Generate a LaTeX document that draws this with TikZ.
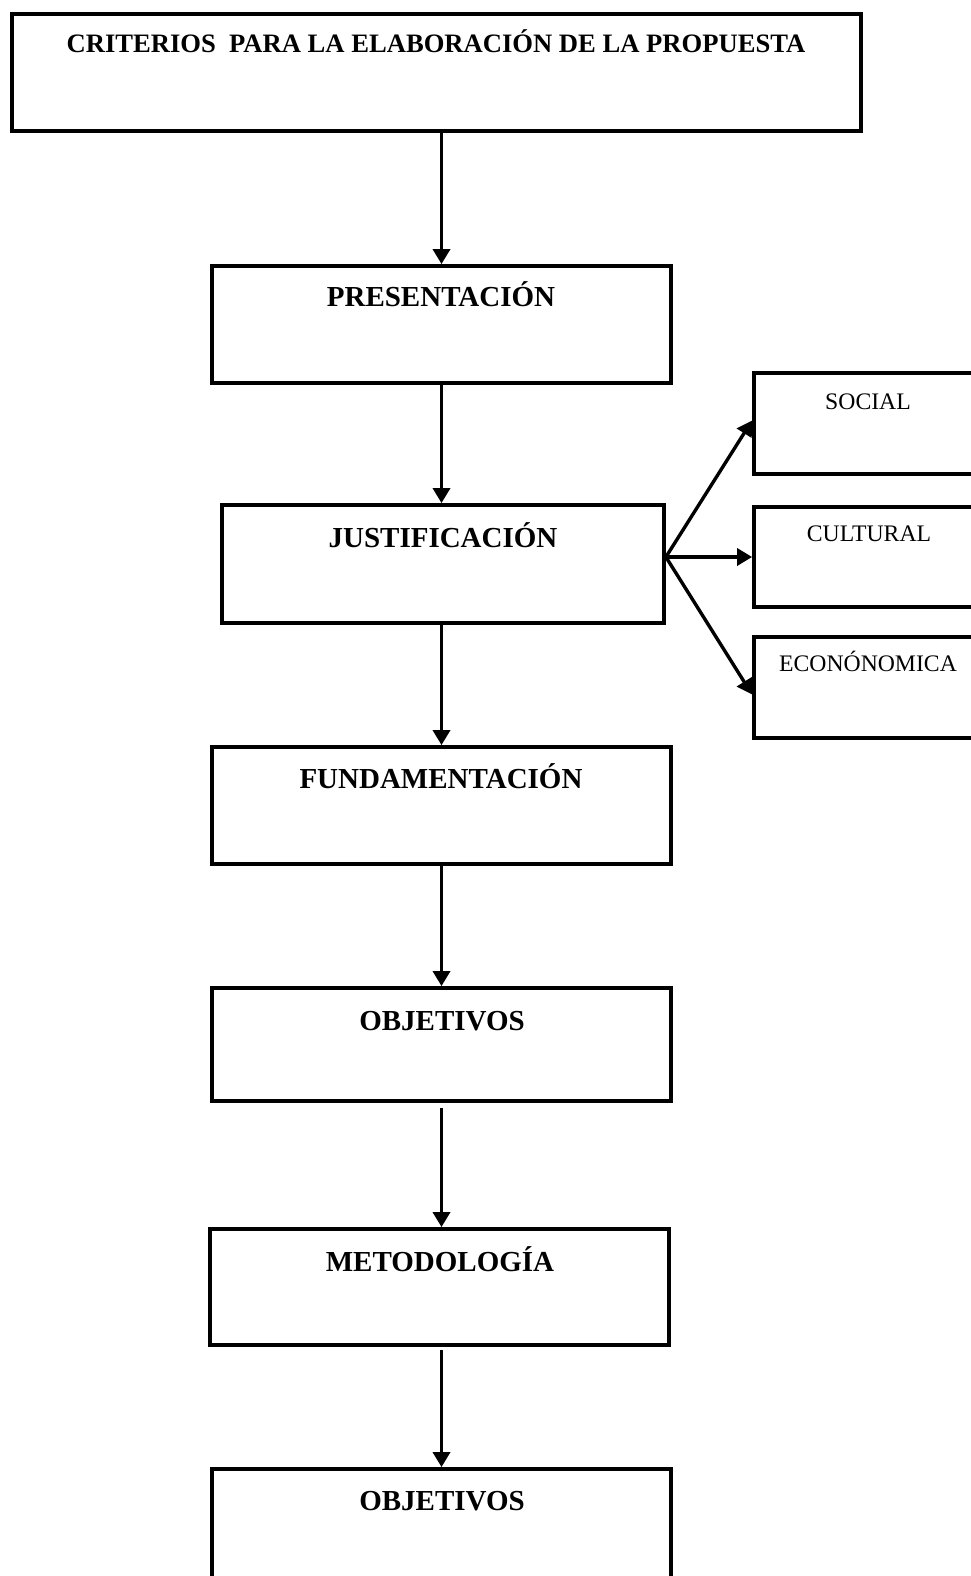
\documentclass[tikz,border=0pt]{standalone}
\usepackage{fontspec}
\setmainfont{Liberation Serif}
\usetikzlibrary{arrows.meta}
\begin{document}
\begin{tikzpicture}[x=1pt,y=-1pt,
  box/.style={draw, line width=3.8pt, inner sep=0pt},
  head/.style={anchor=base, inner sep=0pt, font=\fontsize{29}{34}\selectfont\bfseries},
  toptext/.style={anchor=base, inner sep=0pt, font=\fontsize{26.6}{32}\selectfont\bfseries},
  sub/.style={anchor=base, inner sep=0pt, font=\fontsize{23.7}{28}\selectfont},
  arr/.style={line width=3.4pt, -{Triangle[length=15pt,width=17pt]}}]
\useasboundingbox (0,0) rectangle (971,1576);

% main column of boxes
\node[box, minimum width=849pt, minimum height=117pt] (top) at (436.5,72.5) {};
\node[box, minimum width=459pt, minimum height=117pt] (pres) at (441.5,324.5) {};
\node[box, minimum width=442pt, minimum height=118pt] (just) at (443,564) {};
\node[box, minimum width=459pt, minimum height=117pt] (fund) at (441.5,805.5) {};
\node[box, minimum width=459pt, minimum height=113pt] (obj1) at (441.5,1044.5) {};
\node[box, minimum width=459pt, minimum height=116pt] (metod) at (439.5,1287) {};
\node[box, minimum width=459pt, minimum height=131pt] (obj2) at (441.5,1534.5) {};

% side boxes of the justification
\node[box, minimum width=246pt, minimum height=101pt] (social) at (877,423.5) {};
\node[box, minimum width=246pt, minimum height=100pt] (cult) at (877,557) {};
\node[box, minimum width=246pt, minimum height=101pt] (econ) at (877,687.5) {};

% labels
\node[toptext] (ttop) at (436,53) {CRITERIOS~ PARA LA ELABORACIÓN DE LA PROPUESTA};
\node[head] (tpres) at (441,306) {PRESENTACIÓN};
\node[head] (tjust) at (443,547) {JUSTIFICACIÓN};
\node[head] (tfund) at (441,788.5) {FUNDAMENTACIÓN};
\node[head] (tobj1) at (442,1030) {OBJETIVOS};
\node[head] (tmetod) at (440,1271) {METODOLOGÍA};
\node[head] (tobj2) at (442,1510) {OBJETIVOS};
\node[sub] (tsocial) at (868,409) {SOCIAL};
\node[sub] (tcult) at (869,541.5) {CULTURAL};
\node[sub] (tecon) at (868,671) {ECONÓNOMICA};

% vertical flow
\draw[arr] (pres.north |- top.south) -- (pres.north);
\draw[arr] (pres.south) -- (pres.south |- just.north);
\draw[arr] (pres.south |- just.south) -- (fund.north);
\draw[arr] (fund.south) -- (obj1.north);
\draw[arr, shorten <=5pt] (obj1.south) -- (obj1.south |- metod.north);
\draw[arr, shorten <=3pt] (obj1.south |- metod.south) -- (obj2.north);

% fan out of the justification
\coordinate (fan) at ([yshift=7pt]just.east);
\draw[arr] (fan) -- ([yshift=3pt]social.west);
\draw[arr] (fan) -- (cult.west);
\draw[arr] (fan) -- ([yshift=-7pt]econ.west);
\end{tikzpicture}
\end{document}
